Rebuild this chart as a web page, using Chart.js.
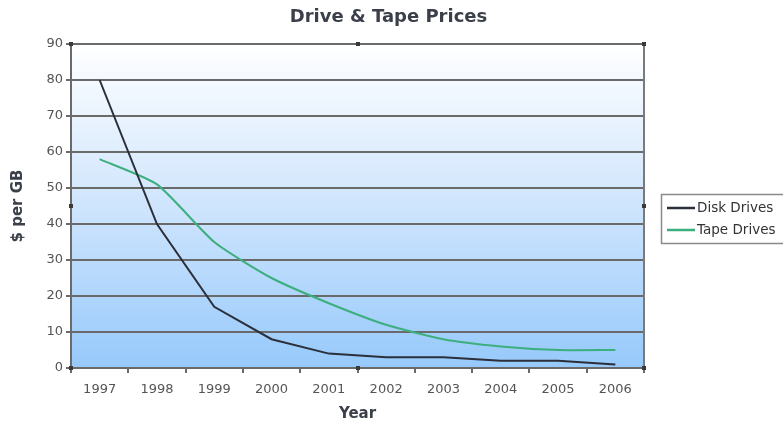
<!DOCTYPE html>
<html>
<head>
<meta charset="utf-8">
<script src="https://cdn.jsdelivr.net/npm/chart.js@4/dist/chart.umd.min.js"></script>
<style>
  html, body { margin: 0; padding: 0; background: #ffffff; }
  #wrap { width: 783px; height: 423px; }
</style>
</head>
<body>
<div id="wrap"><canvas id="c" width="783" height="423"></canvas></div>
<script>
const years = ['1997', '1998', '1999', '2000', '2001', '2002', '2003', '2004', '2005', '2006'];
const diskDrives = [80, 40, 17, 8, 4, 3, 3, 2, 2, 1];
const tapeDrives = [58, 51, 35, 25, 18, 12, 8, 6, 5, 5];
const yTicks = [0, 10, 20, 30, 40, 50, 60, 70, 80, 90];
const chartTitle = 'Drive & Tape Prices';

const FONT = "'DejaVu Sans', Verdana, sans-serif";
const GRID = '#6a6a6a';

// Plot background: white at the top fading to light blue at the bottom
const plotBackground = {
  id: 'plotBackground',
  beforeDraw(chart) {
    const { ctx, chartArea: a } = chart;
    const g = ctx.createLinearGradient(0, a.top, 0, a.bottom);
    g.addColorStop(0, '#ffffff');
    g.addColorStop(0.5, '#cfe5fd');
    g.addColorStop(1, '#96c9fb');
    ctx.save();
    ctx.fillStyle = g;
    ctx.fillRect(a.left, a.top, a.right - a.left, a.bottom - a.top);
    ctx.restore();
  }
};

// Right border of the plot plus the small handles on its frame
const plotFrame = {
  id: 'plotFrame',
  afterDatasetsDraw(chart) {
    const { ctx, chartArea: a } = chart;
    ctx.save();
    ctx.strokeStyle = '#7a7a7a';
    ctx.lineWidth = 2;
    ctx.beginPath();
    ctx.moveTo(a.right, a.top);
    ctx.lineTo(a.right, a.bottom);
    ctx.stroke();
    const mx = (a.left + a.right) / 2, my = (a.top + a.bottom) / 2;
    const pts = [[a.left, a.top], [mx, a.top], [a.right, a.top], [a.left, my], [a.right, my], [a.left, a.bottom], [mx, a.bottom], [a.right, a.bottom]];
    ctx.fillStyle = '#3a3a3a';
    pts.forEach(([x, y]) => ctx.fillRect(Math.round(x) - 2, Math.round(y) - 2, 4, 4));
    ctx.restore();
  }
};

// Title centred across the whole canvas
const canvasTitle = {
  id: 'canvasTitle',
  afterDraw(chart) {
    const { ctx, width } = chart;
    ctx.save();
    ctx.font = 'bold 18px ' + FONT;
    ctx.fillStyle = '#3b3f4a';
    ctx.textAlign = 'center';
    ctx.textBaseline = 'middle';
    ctx.fillText(chartTitle, width / 2 - 3, 17);
    ctx.restore();
  }
};

// Boxed legend to the right of the plot
const sideLegend = {
  id: 'sideLegend',
  afterDraw(chart) {
    const { ctx } = chart;
    const x = 661, y = 194, w = 140, h = 49;
    ctx.save();
    ctx.fillStyle = '#ffffff';
    ctx.fillRect(x, y, w, h);
    ctx.strokeStyle = '#8a8a8a';
    ctx.lineWidth = 1.5;
    ctx.strokeRect(x + 0.5, y + 0.5, w, h);
    ctx.font = '13.5px ' + FONT;
    ctx.textBaseline = 'middle';
    chart.data.datasets.forEach((ds, i) => {
      const ly = y + 14 + i * 22;
      ctx.strokeStyle = ds.borderColor;
      ctx.lineWidth = 2.5;
      ctx.beginPath();
      ctx.moveTo(667, ly);
      ctx.lineTo(695, ly);
      ctx.stroke();
      ctx.fillStyle = '#333333';
      ctx.fillText(ds.label, 697, ly);
    });
    ctx.restore();
  }
};

new Chart(document.getElementById('c'), {
  type: 'line',
  data: {
    labels: years,
    datasets: [
      { label: 'Disk Drives', data: diskDrives, borderColor: '#2b2f3a', borderWidth: 2, pointRadius: 0, tension: 0, fill: false },
      { label: 'Tape Drives', data: tapeDrives, borderColor: '#3dae7e', borderWidth: 2, pointRadius: 0, tension: 0.2, fill: false }
    ]
  },
  options: {
    responsive: false,
    animation: false,
    events: [],
    layout: { padding: { left: 0, right: 139, top: 44, bottom: 0 } },
    plugins: {
      legend: { display: false },
      tooltip: { enabled: false },
      title: { display: false }
    },
    scales: {
      x: {
        offset: true,
        grid: { offset: true, drawOnChartArea: false, drawTicks: true, tickLength: 5, color: GRID, lineWidth: 2 },
        border: { display: true, color: GRID, width: 2 },
        ticks: { color: '#555555', font: { family: FONT, size: 13 }, padding: 9, maxRotation: 0 },
        title: { display: true, text: 'Year', color: '#3b3f4a', font: { family: FONT, size: 15, weight: 'bold' }, padding: { top: 5, bottom: 0 } },
        afterFit(scale) { scale.height = 55; }
      },
      y: {
        min: 0,
        max: 90,
        afterBuildTicks(scale) { scale.ticks = yTicks.map(v => ({ value: v })); },
        grid: { color: GRID, lineWidth: 2, tickLength: 5 },
        border: { display: true, color: GRID, width: 2 },
        ticks: { color: '#555555', font: { family: FONT, size: 13 }, padding: 3 },
        title: { display: true, text: '$ per GB', color: '#3b3f4a', font: { family: FONT, size: 15, weight: 'bold' }, padding: { top: 9, bottom: 4 } },
        afterFit(scale) { scale.width = 71; }
      }
    }
  },
  plugins: [plotBackground, plotFrame, canvasTitle, sideLegend]
});
</script>
</body>
</html>
